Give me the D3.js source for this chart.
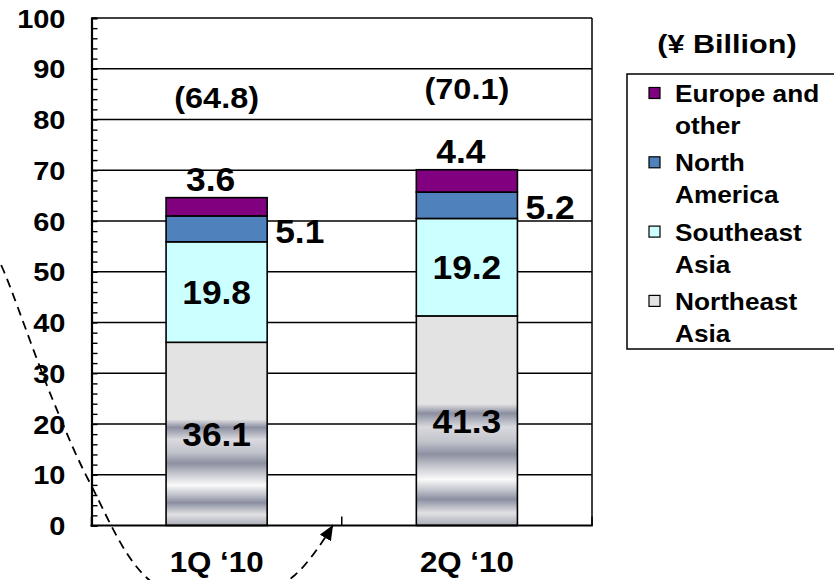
<!DOCTYPE html>
<html>
<head>
<meta charset="utf-8">
<script src="https://cdn.jsdelivr.net/npm/d3@7"></script>
<style>
  html, body { margin: 0; padding: 0; background: #fff; }
  svg { display: block; font-family: "Liberation Sans", Arial, sans-serif; font-weight: bold; }
</style>
</head>
<body>
<svg id="chart" width="834" height="580"></svg>
<script>
// Sales by region, ¥ billion
const quarters = ["1Q \u201810", "2Q \u201810"];
const northeastAsia = [36.1, 41.3];
const southeastAsia = [19.8, 19.2];
const northAmerica = [5.1, 5.2];
const europeOther = [3.6, 4.4];
const totals = [64.8, 70.1];
const yTicks = [0, 10, 20, 30, 40, 50, 60, 70, 80, 90, 100];

const seriesKeys = ["ne", "se", "na", "eu"];
const seriesNames = {
  eu: ["Europe and", "other"],
  na: ["North", "America"],
  se: ["Southeast", "Asia"],
  ne: ["Northeast", "Asia"]
};
const fills = { ne: "url(#metal)", se: "#ccffff", na: "#4f81bd", eu: "#800080" };
const swatchFills = { ne: "#e3e3e3", se: "#ccffff", na: "#4f81bd", eu: "#800080" };

const rows = quarters.map((q, i) => ({
  q, ne: northeastAsia[i], se: southeastAsia[i], na: northAmerica[i], eu: europeOther[i], total: totals[i]
}));

const svg = d3.select("#chart");
const plotLeft = 91.5, plotRight = 592, plotTop = 18, plotBottom = 525.5;

const x = d3.scaleBand().domain(quarters).range([plotLeft, plotRight]).paddingInner(0.596).paddingOuter(0.298);
const y = d3.scaleLinear().domain([0, 100]).range([plotBottom, plotTop]);

// Metallic fill for the lower part of the Northeast Asia segment
const defs = svg.append("defs");
const grad = defs.append("linearGradient").attr("id", "metal")
  .attr("x1", 0).attr("y1", 0).attr("x2", 0).attr("y2", 1);
[[0, "#e3e3e3"], [0.42, "#e3e3e3"], [0.465, "#8a8ea0"], [0.53, "#d9d9de"], [0.6, "#c2c4cc"],
 [0.66, "#8c90a0"], [0.72, "#c8c9d0"], [0.78, "#fafafa"], [0.83, "#c4c6ce"], [0.875, "#8a8ea0"],
 [0.94, "#e2e2e4"], [1, "#a8abb6"]].forEach(([o, c]) =>
  grad.append("stop").attr("offset", o).attr("stop-color", c));

defs.append("marker").attr("id", "arrow")
  .attr("markerUnits", "userSpaceOnUse")
  .attr("markerWidth", 15).attr("markerHeight", 13)
  .attr("refX", 15).attr("refY", 6.5).attr("orient", "auto")
  .append("path").attr("d", "M0,0 L15,6.5 L0,13 Z").attr("fill", "#000");

// Gridlines and frame
svg.append("g").selectAll("line").data(yTicks.filter(t => t > 0)).join("line")
  .attr("x1", plotLeft).attr("x2", plotRight)
  .attr("y1", d => y(d)).attr("y2", d => y(d))
  .attr("stroke", "#000").attr("stroke-width", 1.5);
svg.append("line").attr("x1", plotRight).attr("x2", plotRight).attr("y1", plotTop).attr("y2", plotBottom)
  .attr("stroke", "#000").attr("stroke-width", 1.5);

// Stacked bars
const stack = d3.stack().keys(seriesKeys)(rows);
const layers = svg.append("g").selectAll("g").data(stack).join("g");
layers.selectAll("rect").data(d => d.map(s => ({ key: d.key, s }))).join("rect")
  .attr("x", d => x(d.s.data.q))
  .attr("width", x.bandwidth())
  .attr("y", d => y(d.s[1]))
  .attr("height", d => y(d.s[0]) - y(d.s[1]))
  .attr("fill", d => fills[d.key])
  .attr("stroke", "#000").attr("stroke-width", 1.6);

// Axes
const minor = d3.axisLeft(y).tickValues(d3.range(0, 101, 2)).tickSize(-6).tickFormat("");
const gMinor = svg.append("g").attr("transform", `translate(${plotLeft},0)`).call(minor);
gMinor.select(".domain").attr("stroke-width", 2.2);
gMinor.selectAll(".tick line").attr("stroke-width", 1.4);

const labels = d3.axisLeft(y).tickValues(yTicks).tickSize(0);
const gLab = svg.append("g").attr("transform", `translate(${plotLeft},0)`).call(labels);
gLab.select(".domain").remove();
gLab.selectAll(".tick text")
  .attr("x", 0).attr("dy", null)
  .attr("transform", "translate(-26,9) scale(1.16,1)")
  .attr("text-anchor", "end")
  .style("font-size", "25px").style("font-family", "Liberation Sans, Arial, sans-serif")
  .style("font-weight", "bold").attr("fill", "#000");

svg.append("line").attr("x1", plotLeft - 1).attr("x2", plotRight + 0.75).attr("y1", plotBottom).attr("y2", plotBottom)
  .attr("stroke", "#000").attr("stroke-width", 2.2);
const dividers = [plotLeft, (x(quarters[0]) + x.bandwidth() + x(quarters[1])) / 2, plotRight];
svg.append("g").selectAll("line").data(dividers).join("line")
  .attr("x1", d => d).attr("x2", d => d).attr("y1", plotBottom).attr("y2", plotBottom - 9)
  .attr("stroke", "#000").attr("stroke-width", 1.5);

// Text helper with a slight horizontal stretch
function label(g, tx, ty, str, size, sx, anchor) {
  g.append("text")
    .attr("transform", `translate(${tx},${ty}) scale(${sx},1)`)
    .attr("text-anchor", anchor || "middle")
    .style("font-size", size + "px")
    .text(str);
}

const lab = svg.append("g").attr("fill", "#000");
const cx = q => x(q) + x.bandwidth() / 2;
const totalNudge = [4, -5];
const barText = 34;
rows.forEach((r, i) => {
  const c = cx(r.q);
  const s = stack.map(l => l[i]);
  // Northeast Asia and Southeast Asia: centred in segment
  label(lab, c, (y(s[0][0]) + y(s[0][1])) / 2 + 12, r.ne.toFixed(1), barText, 1.04);
  label(lab, c, (y(s[1][0]) + y(s[1][1])) / 2 + 12, r.se.toFixed(1), barText, 1.04);
  // North America: to the right of the bar
  label(lab, x(r.q) + x.bandwidth() + 8, y(s[2][0]) + 1, r.na.toFixed(1), barText, 1.04, "start");
  // Europe and other: above the bar
  label(lab, c - 6, y(s[3][1]) - 7, r.eu.toFixed(1), barText, 1.04);
  // Total
  label(lab, c, 103.5 + totalNudge[i], `(${r.total.toFixed(1)})`, 30, 1.08);
  // Category
  label(lab, c, 572, r.q, 29, 1.08);
});

// Legend
label(svg, 727, 53, "(\u00a5 Billion)", 25.5, 1.2);
svg.append("rect").attr("x", 627).attr("y", 74).attr("width", 230).attr("height", 275)
  .attr("fill", "#fff").attr("stroke", "#000").attr("stroke-width", 1.5);
const legendOrder = ["eu", "na", "se", "ne"];
const lg = svg.append("g");
legendOrder.forEach((k, i) => {
  const base = 102 + i * 69.3;
  lg.append("rect").attr("x", 649).attr("y", base - 14.5).attr("width", 11).attr("height", 11)
    .attr("fill", swatchFills[k]).attr("stroke", "#000").attr("stroke-width", 1.2);
  seriesNames[k].forEach((line, j) => label(lg, 675, base + j * 32, line, 23, 1.14, "start"));
});

// Dashed callout arc with arrow
const arc = [[-6, 252], [2, 267], [52, 398], [90, 483], [147, 578], [221, 614], [295, 575], [333, 525]];
svg.append("path")
  .attr("d", d3.line().curve(d3.curveCatmullRom)(arc))
  .attr("fill", "none").attr("stroke", "#000").attr("stroke-width", 1.8)
  .attr("stroke-dasharray", "9,6")
  .attr("marker-end", "url(#arrow)");
</script>
</body>
</html>
